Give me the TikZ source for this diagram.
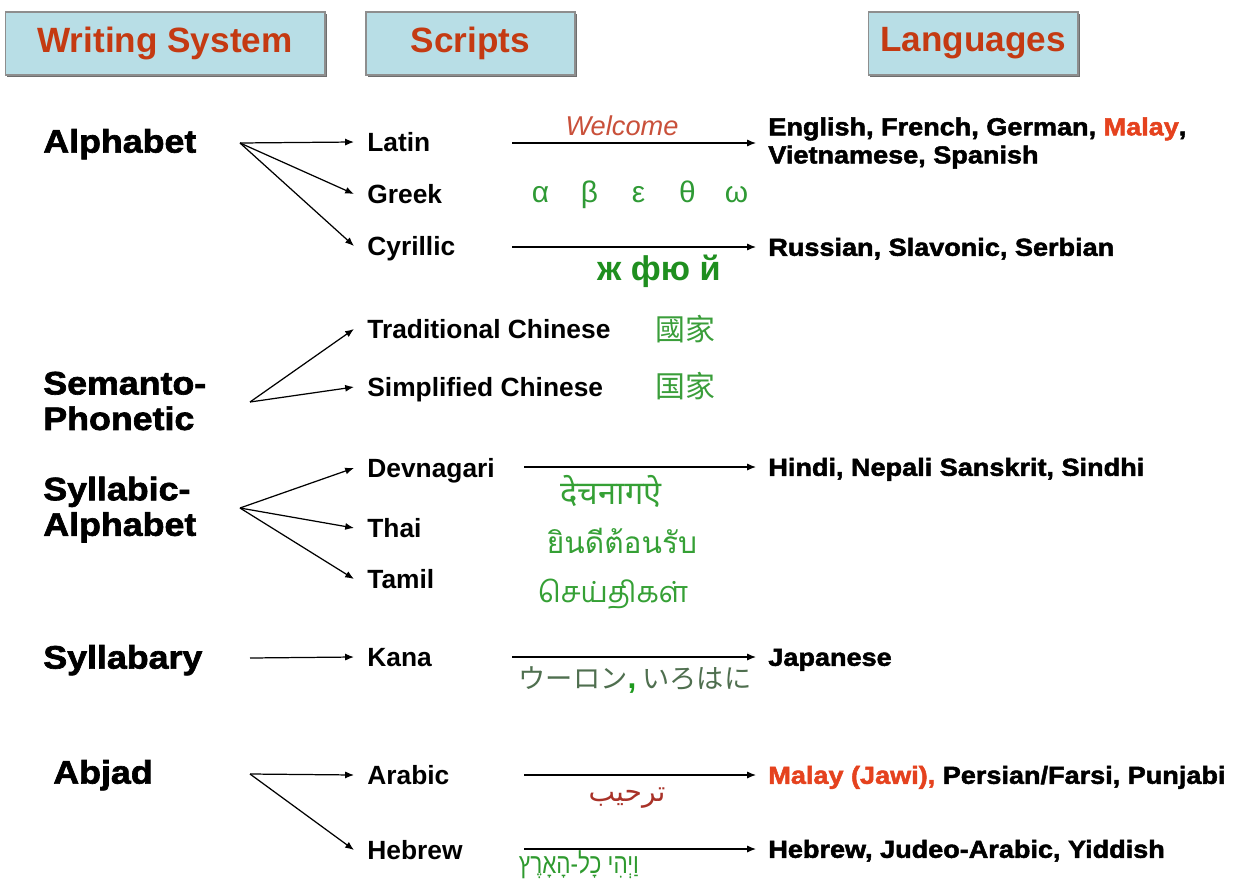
\documentclass[tikz,border=0pt]{standalone}
\usepackage{fontspec}
\setmainfont{Liberation Sans}
\newfontfamily\blk{Liberation Sans}[FakeStretch=1.1,BoldFeatures={FakeBold=2}]
\newfontfamily\tcfont{Noto Sans CJK TC}
\newfontfamily\scfont{Noto Sans CJK SC}
\newfontfamily\jpfont{Noto Sans CJK JP}
\newfontfamily\devfont[Script=Devanagari]{Noto Sans}
\newfontfamily\thaifont[Script=Thai]{Loma}
\newfontfamily\tamilfont[Script=Tamil]{Hind Madurai}
\newfontfamily\arabicfont[Script=Arabic]{DejaVu Sans}
\newfontfamily\hebfont[Script=Hebrew,FakeStretch=0.8]{Liberation Sans}
\TeXXeTstate=1
\usetikzlibrary{arrows.meta,shadows}
\definecolor{boxfill}{HTML}{B8DEE6}
\definecolor{boxline}{HTML}{8E8E8E}
\definecolor{boxshade}{HTML}{6E6E6E}
\definecolor{hdrred}{HTML}{C43A12}
\definecolor{malay}{HTML}{E5421E}
\definecolor{welc}{HTML}{C9503A}
\definecolor{grk}{HTML}{2F9A35}
\definecolor{cyr}{HTML}{1F8F1F}
\definecolor{cjk}{HTML}{3A9E3A}
\definecolor{ind}{HTML}{35A035}
\definecolor{kana}{HTML}{4F6F4F}
\definecolor{kcomma}{HTML}{1E9A1E}
\definecolor{arab}{HTML}{A93228}
\definecolor{hebg}{HTML}{2E9A2E}
\begin{document}
\begin{tikzpicture}[x=0.02cm,y=-0.02cm,
  hdr/.style={draw=boxline, fill=boxfill, line width=0.6pt, minimum height=1.26cm,
    inner sep=0, text=hdrred, font=\bfseries\fontsize{20}{24}\selectfont,
    drop shadow={shadow xshift=0.04cm, shadow yshift=-0.04cm, fill=boxshade, opacity=1}},
  ws/.style={inner sep=0, align=left, font=\blk\bfseries\fontsize{18.5}{20.2}\selectfont},
  sc/.style={anchor=west, inner xsep=0.26cm, inner ysep=0, text height=10.7pt, text depth=0pt,
    font=\bfseries\fontsize{15}{18}\selectfont},
  langbase/.style={anchor=west, inner xsep=0.24cm, inner ysep=0, align=left,
    font=\blk\bfseries\fontsize{14}{16}\selectfont},
  lang/.style={langbase, text height=10pt, text depth=0pt},
  arr/.style={-{Latex[length=5pt,width=4pt]}, line width=0.7pt},
  deco/.style={inner sep=0}
]
\useasboundingbox[fill=white] (0,0) rectangle (1250,882);

% header boxes
\node[hdr, minimum width=6.4cm]  (hws) at (165,43.5) {Writing System};
\node[hdr, minimum width=4.18cm] (hsc) at (470.5,43.5) {Scripts};
\node[hdr, minimum width=4.2cm]  (hlg) at (973,43.5) {Languages};

% writing systems
\node[ws, anchor=base west] (alpha) at (43,152.6) {Alphabet};
\node[ws, anchor=west] (seman) at (43,401) {Semanto-\\Phonetic};
\node[ws, anchor=west] (sylal) at (43,509.6) {Syllabic-\\Alphabet};
\node[ws, anchor=base west] (sylb) at (43,668.6) {Syllabary};
\node[ws, anchor=base west] (abjad) at (53,783.6) {Abjad};

\coordinate (alphaO) at (240,143);
\coordinate (semO) at (250,402);
\coordinate (sylO) at (240,508);
\coordinate (sybO) at (250,658);
\coordinate (abjO) at (250,774);

% scripts
\node[sc] (latin)  at (354,142) {Latin};
\node[sc] (greek)  at (354,194) {Greek};
\node[sc] (cyril)  at (354,246) {Cyrillic};
\node[sc] (trad)   at (354,329) {Traditional Chinese};
\node[sc] (simp)   at (354,387) {Simplified Chinese};
\node[sc] (devn)   at (354,468) {Devnagari};
\node[sc] (thai)   at (354,528) {Thai};
\node[sc] (tamil)  at (354,579) {Tamil};
\node[sc] (kana)   at (354,657) {Kana};
\node[sc] (arabic) at (354,775) {Arabic};
\node[sc] (hebrew) at (354,850) {Hebrew};

% languages
\node[langbase] (eng)   at (756,143) {English, French, German, \textcolor{malay}{Malay},\\Vietnamese, Spanish};
\node[lang] (rus)   at (756,247) {Russian, Slavonic, Serbian};
\node[lang] (hindi) at (756,467) {Hindi, Nepali Sanskrit, Sindhi};
\node[lang] (jap)   at (756,657) {Japanese};
\node[lang] (mal)   at (756,775) {\textcolor{malay}{Malay (Jawi),} Persian/Farsi, Punjabi};
\node[lang] (hebl)  at (756,849) {Hebrew, Judeo-Arabic, Yiddish};

\coordinate (latinS) at (512,143);
\coordinate (cyrS)   at (512,247);
\coordinate (devS)   at (524,467);
\coordinate (kanaS)  at (512,657);
\coordinate (arabS)  at (524,775);
\coordinate (hebS)   at (524,849);

% fan arrows
\draw[arr] (alphaO) -- (latin.west);
\draw[arr] (alphaO) -- (greek.west);
\draw[arr] (alphaO) -- (cyril.west);
\draw[arr] (semO) -- (trad.west);
\draw[arr] (semO) -- (simp.west);
\draw[arr] (sylO) -- (devn.west);
\draw[arr] (sylO) -- (thai.west);
\draw[arr] (sylO) -- (tamil.west);
\draw[arr] (sybO) -- (kana.west);
\draw[arr] (abjO) -- (arabic.west);
\draw[arr] (abjO) -- (hebrew.west);

% script -> language arrows
\draw[arr] (latinS) -- (eng.west);
\draw[arr] (cyrS) -- (rus.west);
\draw[arr] (devS) -- (hindi.west);
\draw[arr] (kanaS) -- (jap.west);
\draw[arr] (arabS) -- (mal.west);
\draw[arr] (hebS) -- (hebl.west);

% sample texts
\node[deco, text=welc, font=\itshape\fontsize{15.5}{18}\selectfont] (welcome) at (622,126) {Welcome};
\node[deco, text=grk, font=\fontsize{17}{18}\selectfont] (greekL) at (638.5,195)
  {\makebox[0.98cm]{α}\makebox[0.98cm]{β}\makebox[0.98cm]{ε}\makebox[0.98cm]{θ}\makebox[0.98cm]{ω}};
\node[deco, text=cyr, font=\bfseries\fontsize{19.5}{20}\selectfont] (cyrL) at (659,271) {ж фю й};
\node[deco, text=cjk, font=\tcfont\fontsize{17}{20}\selectfont] (tradL) at (685,329) {國家};
\node[deco, text=cjk, font=\scfont\fontsize{17}{20}\selectfont] (simpL) at (685,386) {国家};
\node[deco, text=ind, font=\devfont\fontsize{18.5}{20}\selectfont] (devL) at (611,491) {देचनागऐ};
\node[deco, text=ind, font=\thaifont\fontsize{17}{20}\selectfont] (thaiL) at (622,541) {ยินดีต้อนรับ};
\node[deco, text=ind, font=\tamilfont\fontsize{16.5}{20}\selectfont] (tamL) at (613,594) {செய்திகள்};
\node[deco, text=kana, font=\jpfont\fontsize{15.5}{18}\selectfont] (kanaL) at (635,680)
  {ウーロン{\rmfamily\bfseries\fontsize{18}{18}\selectfont\textcolor{kcomma}{,}} いろはに};
\node[deco, text=arab, font=\fontsize{16}{20}\selectfont] (arabL) at (627,798) {\arabicfont\beginR ترحيب\endR};
\node[deco, text=hebg, font=\fontsize{16}{18}\selectfont] (hebL) at (579,865) {\hebfont\beginR וַיְהִי כָל-הָאָרֶץ\endR};
\end{tikzpicture}
\end{document}
